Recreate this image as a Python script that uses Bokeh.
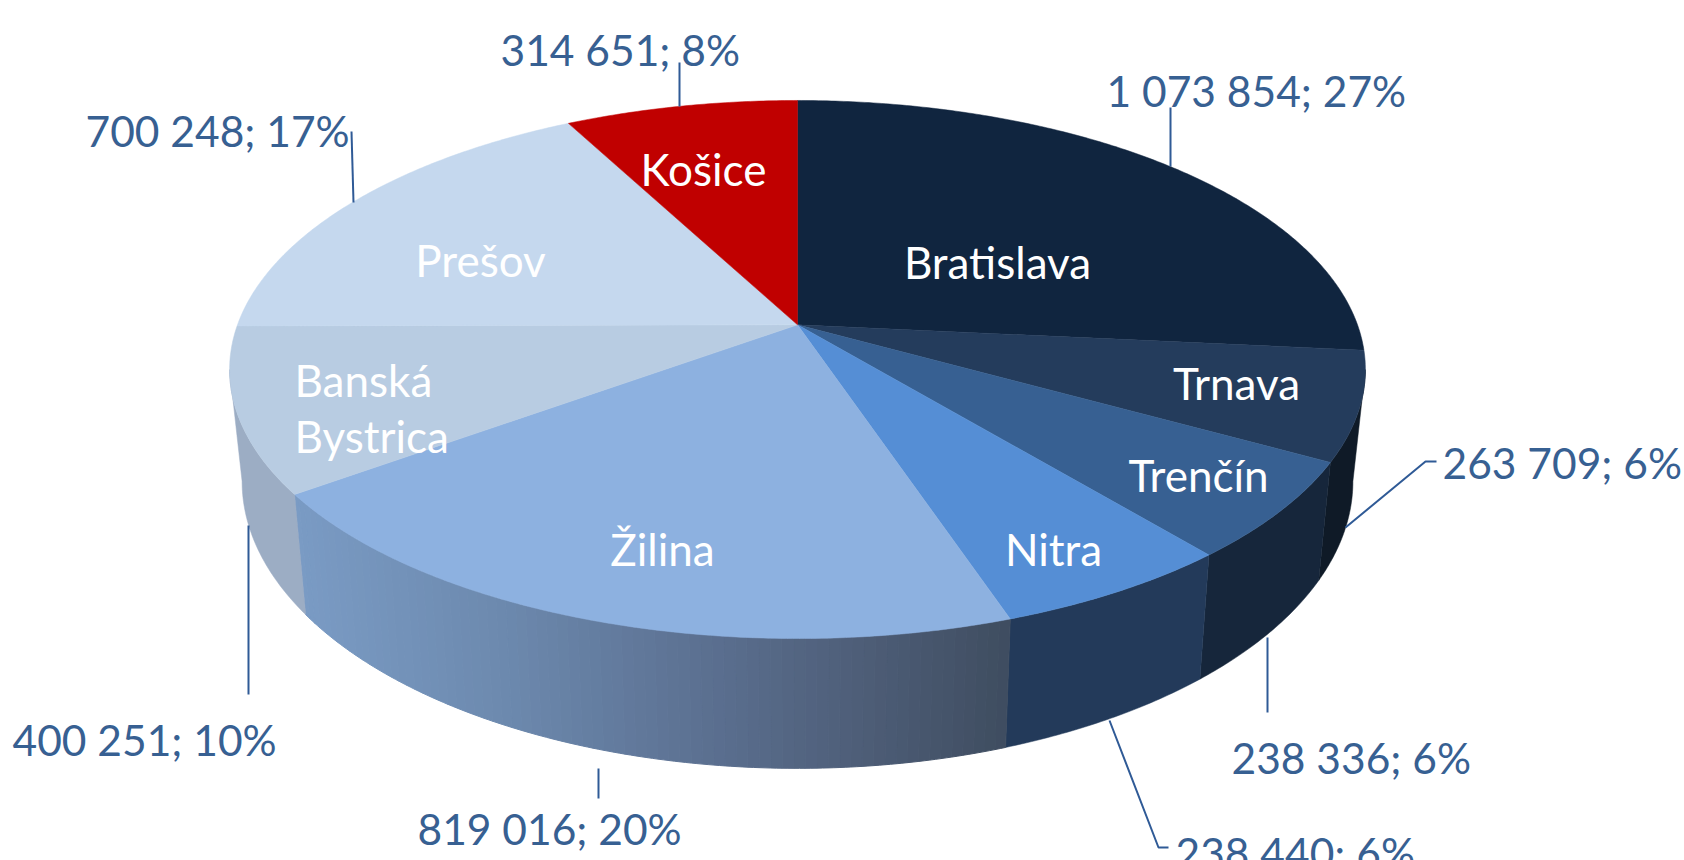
import numpy as np
from bokeh.plotting import figure
from bokeh.models import Range1d
from bokeh.core.properties import value
from bokeh.embed import file_html
from bokeh.resources import INLINE

# ---- data ----
regions = ["Bratislava", "Trnava", "Trenčín", "Nitra", "Žilina", "Banská\nBystrica", "Prešov", "Košice"]
inhabitants = [1073854, 263709, 238336, 238440, 819016, 400251, 700248, 314651]
shares = [27, 6, 6, 6, 20, 10, 17, 8]

# ---- styles ----
top_colors = ["#10253F", "#243C5C", "#376092", "#558ED5", "#8DB1E0", "#B8CCE2", "#C5D8EE", "#C00000"]
side_colors = ["#0C1726", "#0F1A27", "#16263B", "#233A5A", None, "#9CADC4", "#9CADC4", "#800000"]
gradient_x = [305, 500, 700, 860, 1010]
gradient_rgb = [(122, 155, 196), (109, 138, 175), (92, 113, 146), (78, 94, 120), (63, 77, 96)]
label_color = "#376092"
leader_color = "#2F5A96"

# ---- layout (page pixels) ----
W, H = 1684, 860
FIG_W, FIG_H = 1684, 860
cx, cy = 797.0, 324.3
rx, ry_scale, k = 560.0, 261.6, 0.1662
shrink = 0.978
vis_a, vis_b = np.degrees(np.arccos(-k)), 360 - np.degrees(np.arccos(-k))

value_pos = [(1106, 90), (1442, 462), (1231, 757), (1175, 852), (417, 828), (12, 739), (85, 130), (500, 49)]
name_pos = [(997, 261, "center"), (1236, 382, "center"), (1198, 474, "center"), (1053, 548, "center"),
            (662, 548, "center"), (294, 379, "left"), (480, 259, "center"), (703, 168, "center")]
leaders = [([1170, 1170], [107, 166]),
           ([1345, 1425, 1436], [527, 461, 461]),
           ([1267, 1267], [637, 712]),
           ([1109, 1158, 1168], [720, 847, 847]),
           ([598, 598], [768, 798]),
           ([248, 248], [525, 694]),
           ([351, 353], [131, 202]),
           ([679, 679], [62, 106])]


def top_rim(deg):
    t = np.radians(deg)
    d = 1 + k * np.cos(t)
    return cx + rx * np.sin(t) / d, cy - ry_scale * np.cos(t) / d


def bottom_rim(deg):
    x, y = top_rim(deg)
    return cx + (x - cx) * shrink, y + 118 + (y - 462) * 0.067


def arc(a, b):
    return np.linspace(a, b, max(2, int(abs(b - a) * 2) + 1))


p = figure(width=FIG_W, height=FIG_H, x_range=Range1d(0, W), y_range=Range1d(H, 0),
           output_backend="svg", toolbar_location=None, min_border=0)
p.axis.visible = False
p.grid.visible = False
p.outline_line_color = None

vals = np.array(inhabitants, dtype=float)
edges = np.concatenate([[0], np.cumsum(vals) / vals.sum() * 360])

# side walls
for i in range(len(vals)):
    a, b = max(edges[i], vis_a), min(edges[i + 1], vis_b)
    if a >= b:
        continue
    if side_colors[i] is None:
        steps = np.arange(a, b, 1.0).tolist() + [b]
        for s0, s1 in zip(steps[:-1], steps[1:]):
            d = arc(s0, s1)
            xt, yt = top_rim(d)
            xb, yb = bottom_rim(d[::-1])
            xm = (xt.mean() + xb.mean()) / 2
            col = [int(np.interp(xm, gradient_x, [c[j] for c in gradient_rgb])) for j in range(3)]
            hexc = "#%02x%02x%02x" % tuple(col)
            p.patch(np.r_[xt, xb], np.r_[yt, yb], fill_color=hexc, line_color=hexc, line_width=1)
    else:
        d = arc(a, b)
        xt, yt = top_rim(d)
        xb, yb = bottom_rim(d[::-1])
        p.patch(np.r_[xt, xb], np.r_[yt, yb], fill_color=side_colors[i], line_color=side_colors[i], line_width=0.5)

# top face
for i in range(len(vals)):
    xt, yt = top_rim(arc(edges[i], edges[i + 1]))
    p.patch(np.r_[cx, xt], np.r_[cy, yt], fill_color=top_colors[i], line_color=top_colors[i], line_width=0.5)

# leaders
for xs, ys in leaders:
    p.line(xs, ys, line_color=leader_color, line_width=2)

# value labels
value_labels = [f"{v:,}".replace(",", " ") + f"; {s}%" for v, s in zip(inhabitants, shares)]
p.text([q[0] for q in value_pos], [q[1] for q in value_pos], text=value_labels,
       text_font=value("Lato"), text_font_size="42.5px", text_color=label_color,
       text_align="left", text_baseline="alphabetic")

# region labels
for name, (x, y, al) in zip(regions, name_pos):
    for j, part in enumerate(name.split("\n")):
        p.text([x], [y + j * 56], text=[part], text_font=value("Lato"), text_font_size="44px",
               text_color="#FFFFFF", text_align=al, text_baseline="alphabetic")

open("out.html", "w").write(file_html(p, INLINE))
